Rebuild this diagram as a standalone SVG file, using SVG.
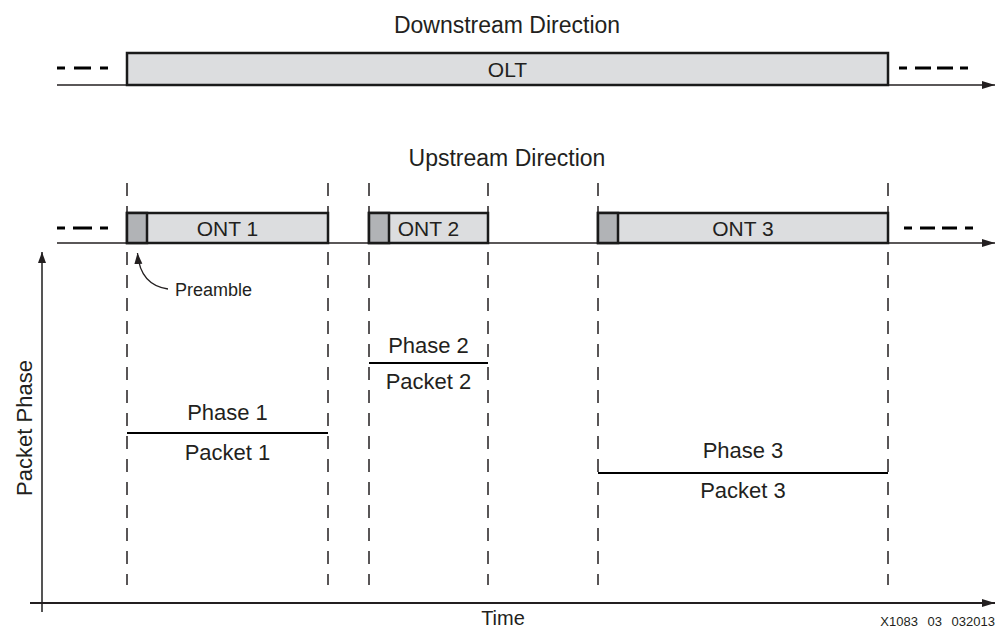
<svg xmlns="http://www.w3.org/2000/svg" width="998" height="630" viewBox="0 0 998 630">
<style>
text{font-family:"Liberation Sans",Arial,sans-serif;fill:#231f20}
.t{font-size:22px}
.h{font-size:23px}
.n{font-size:21px}
.box{fill:#dcdddf;stroke:#1a1a1a;stroke-width:2.5}
.pre{fill:#b1b3b6;stroke:#1a1a1a;stroke-width:2.5}
.base{stroke:#231f20;stroke-width:1.3;fill:none}
.dash{stroke:#000;stroke-width:3;fill:none}
.vd{stroke:#231f20;stroke-width:1.5;stroke-dasharray:13 10;fill:none}
.ph{stroke:#000;stroke-width:2.2;fill:none}
</style>
<defs>
<marker id="ah" markerWidth="14" markerHeight="10" refX="13" refY="5" orient="auto" markerUnits="userSpaceOnUse">
<path d="M0,1 L13,5 L0,9 Z" fill="#231f20"/>
</marker>
<marker id="ahs" markerWidth="12" markerHeight="10" refX="11" refY="5" orient="auto" markerUnits="userSpaceOnUse">
<path d="M0,1 L11,5 L0,9 Z" fill="#231f20"/>
</marker>
</defs>

<text class="h" x="507" y="33" text-anchor="middle">Downstream Direction</text>
<text class="h" x="507" y="166" text-anchor="middle">Upstream Direction</text>

<g id="connectors">
<line class="base" x1="57" y1="85" x2="995" y2="85" marker-end="url(#ah)"/>
<path class="dash" d="M57,68 H65 M74,68 H91 M100,68 H108"/>
<path class="dash" d="M899,68 H907 M915,68 H931 M937,68 H953 M960,68 H968"/>
<line class="base" x1="57" y1="243" x2="995" y2="243" marker-end="url(#ah)"/>
<path class="dash" d="M57,228 H65 M73,228 H92 M100,228 H108"/>
<path class="dash" d="M904,228 H912 M920,228 H935 M942,228 H957 M965,228 H973"/>
<line class="vd" x1="127" y1="183" x2="127" y2="585"/>
<line class="vd" x1="328" y1="183" x2="328" y2="585"/>
<line class="vd" x1="369" y1="183" x2="369" y2="585"/>
<line class="vd" x1="488" y1="183" x2="488" y2="585"/>
<line class="vd" x1="598" y1="183" x2="598" y2="585"/>
<line class="vd" x1="888" y1="183" x2="888" y2="585"/>
<line x1="42" y1="612" x2="42" y2="252" stroke="#555" stroke-width="2" marker-end="url(#ahs)"/>
<line x1="30" y1="603" x2="995" y2="603" stroke="#231f20" stroke-width="1.8" marker-end="url(#ah)"/>
<path d="M168,289 Q140,285 137.5,253" stroke="#231f20" stroke-width="1.3" fill="none" marker-end="url(#ahs)"/>
</g>

<g id="olt">
<rect class="box" x="127" y="53" width="761" height="32"/>
<text class="n" x="507.5" y="77" text-anchor="middle">OLT</text>
</g>

<g id="ont1">
<rect class="box" x="127" y="213" width="201" height="30"/>
<rect class="pre" x="127" y="213" width="20" height="30"/>
<text class="n" x="227.5" y="236" text-anchor="middle">ONT 1</text>
</g>
<g id="ont2">
<rect class="box" x="369" y="213" width="119" height="30"/>
<rect class="pre" x="369" y="213" width="20" height="30"/>
<text class="n" x="428.5" y="236" text-anchor="middle">ONT 2</text>
</g>
<g id="ont3">
<rect class="box" x="598" y="213" width="290" height="30"/>
<rect class="pre" x="598" y="213" width="20" height="30"/>
<text class="n" x="743" y="236" text-anchor="middle">ONT 3</text>
</g>

<g id="preamble">
<text x="175" y="296" font-size="18">Preamble</text>
</g>

<g id="phase1">
<line class="ph" x1="127" y1="433" x2="328" y2="433"/>
<text class="t" x="227.5" y="420" text-anchor="middle">Phase 1</text>
<text class="t" x="227.5" y="460" text-anchor="middle">Packet 1</text>
</g>
<g id="phase2">
<line class="ph" x1="369" y1="363" x2="488" y2="363"/>
<text class="t" x="428.5" y="353" text-anchor="middle">Phase 2</text>
<text class="t" x="428.5" y="389" text-anchor="middle">Packet 2</text>
</g>
<g id="phase3">
<line class="ph" x1="598" y1="473" x2="888" y2="473"/>
<text class="t" x="743" y="458" text-anchor="middle">Phase 3</text>
<text class="t" x="743" y="498" text-anchor="middle">Packet 3</text>
</g>

<text class="t" transform="translate(32,428) rotate(-90)" text-anchor="middle">Packet Phase</text>
<text x="503" y="625" font-size="20" text-anchor="middle">Time</text>
<text x="995" y="626" font-size="13" text-anchor="end" word-spacing="6">X1083 03 032013</text>
</svg>
